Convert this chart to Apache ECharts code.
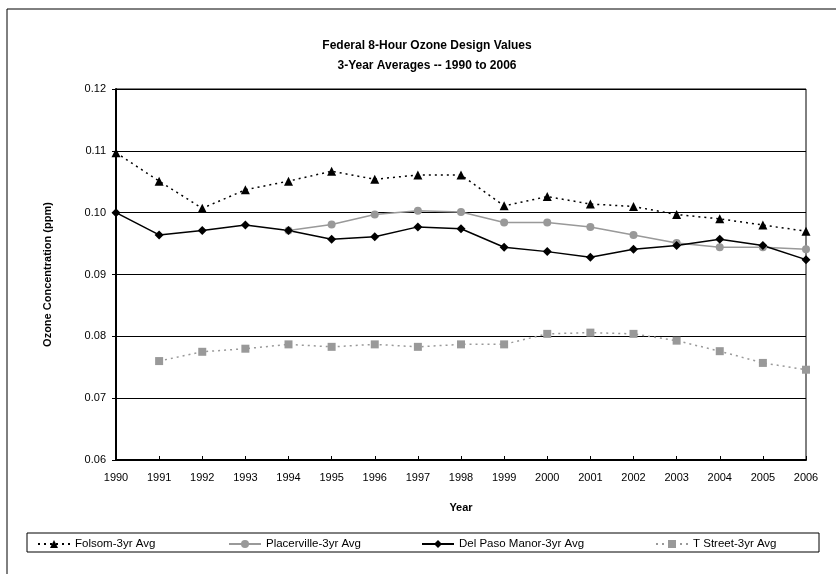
<!DOCTYPE html>
<html>
<head>
<meta charset="utf-8">
<script src="https://cdn.jsdelivr.net/npm/echarts@6/dist/echarts.min.js"></script>
<style>
  html, body { margin: 0; padding: 0; background: #fff; }
  #chart { width: 836px; height: 574px; }
</style>
</head>
<body>
<div id="chart"></div>
<script>
// Federal 8-hour ozone design values, 3-year averages (ppm)
const years = ['1990','1991','1992','1993','1994','1995','1996','1997','1998',
               '1999','2000','2001','2002','2003','2004','2005','2006'];
const folsom = [0.1097,0.1051,0.1007,0.1037,0.1051,0.1067,0.1054,0.1061,0.1061,
                0.1011,0.1026,0.1014,0.1010,0.0997,0.0990,0.0980,0.0970];
const placerville = [null,null,null,null,0.0971,0.0981,0.0997,0.1003,0.1001,
                     0.0984,0.0984,0.0977,0.0964,0.0951,0.0944,0.0944,0.0941];
const delPaso = [0.1000,0.0964,0.0971,0.0980,0.0971,0.0957,0.0961,0.0977,0.0974,
                 0.0944,0.0937,0.0928,0.0941,0.0947,0.0957,0.0947,0.0924];
const tStreet = [null,0.0760,0.0775,0.0780,0.0787,0.0783,0.0787,0.0783,0.0787,
                 0.0787,0.0804,0.0806,0.0804,0.0793,0.0776,0.0757,0.0746];
const seriesNames = ['Folsom-3yr Avg','Placerville-3yr Avg','Del Paso Manor-3yr Avg','T Street-3yr Avg'];

const FONT = '"Liberation Sans", Arial, sans-serif';
const chart = echarts.init(document.getElementById('chart'));

function legendAt(name, left) {
  return {
    data: [name], left: left, top: 533, padding: 5,
    itemWidth: 32, itemHeight: 10, itemGap: 4,
    textStyle: { fontFamily: FONT, fontSize: 11.5, color: '#000' },
    selectedMode: false
  };
}

chart.setOption({
  animation: false,
  backgroundColor: '#fff',
  title: {
    text: 'Federal 8-Hour Ozone Design Values\n3-Year Averages -- 1990 to 2006',
    left: 422, top: 31, textAlign: 'center',
    textStyle: { fontFamily: FONT, fontSize: 12, fontWeight: 'bold', color: '#000', lineHeight: 20 }
  },
  graphic: [
    { type: 'rect', shape: { x: 7, y: 9, width: 900, height: 700 },
      style: { fill: 'none', stroke: '#000', lineWidth: 1 }, z: 100 },
    { type: 'rect', shape: { x: 27, y: 533, width: 792, height: 19 },
      style: { fill: 'none', stroke: '#000', lineWidth: 1 }, z: 100 }
  ],
  legend: [
    legendAt(seriesNames[0], 32),
    legendAt(seriesNames[1], 223),
    legendAt(seriesNames[2], 416),
    legendAt(seriesNames[3], 650)
  ],
  grid: { left: 116, right: 30, top: 89, bottom: 114, show: true, borderColor: '#000', borderWidth: 1 },
  xAxis: {
    type: 'category', data: years, boundaryGap: false,
    name: 'Year', nameLocation: 'middle', nameGap: 42,
    nameTextStyle: { fontFamily: FONT, fontSize: 11, fontWeight: 'bold', color: '#000' },
    axisLine: { lineStyle: { color: '#000', width: 2 } },
    axisTick: { inside: true, length: 4, lineStyle: { color: '#000' }, alignWithLabel: true },
    axisLabel: { fontFamily: FONT, fontSize: 11, color: '#000', margin: 12 },
    splitLine: { show: false }
  },
  yAxis: {
    type: 'value', min: 0.06, max: 0.12, interval: 0.01,
    name: 'Ozone Concentration (ppm)', nameLocation: 'middle', nameGap: 63, nameRotate: 90,
    nameTextStyle: { fontFamily: FONT, fontSize: 11, fontWeight: 'bold', color: '#000' },
    axisLine: { show: true, lineStyle: { color: '#000', width: 2 } },
    axisTick: { show: true, length: 4, lineStyle: { color: '#000' } },
    axisLabel: { fontFamily: FONT, fontSize: 11, color: '#000', margin: 10,
                 formatter: v => v.toFixed(2) },
    splitLine: { show: true, lineStyle: { color: '#000', width: 1 } }
  },
  series: [
    { name: seriesNames[0], type: 'line', data: folsom, symbol: 'triangle', symbolSize: 9,
      itemStyle: { color: '#000' }, lineStyle: { color: '#000', width: 1.5, type: [2, 4] } },
    { name: seriesNames[1], type: 'line', data: placerville, symbol: 'circle', symbolSize: 8,
      itemStyle: { color: '#999' }, lineStyle: { color: '#999', width: 1.5 } },
    { name: seriesNames[2], type: 'line', data: delPaso, symbol: 'diamond', symbolSize: 9,
      itemStyle: { color: '#000' }, lineStyle: { color: '#000', width: 1.5 } },
    { name: seriesNames[3], type: 'line', data: tStreet, symbol: 'rect', symbolSize: 8,
      itemStyle: { color: '#999' }, lineStyle: { color: '#999', width: 1.5, type: [2, 4] } }
  ]
});
</script>
</body>
</html>
